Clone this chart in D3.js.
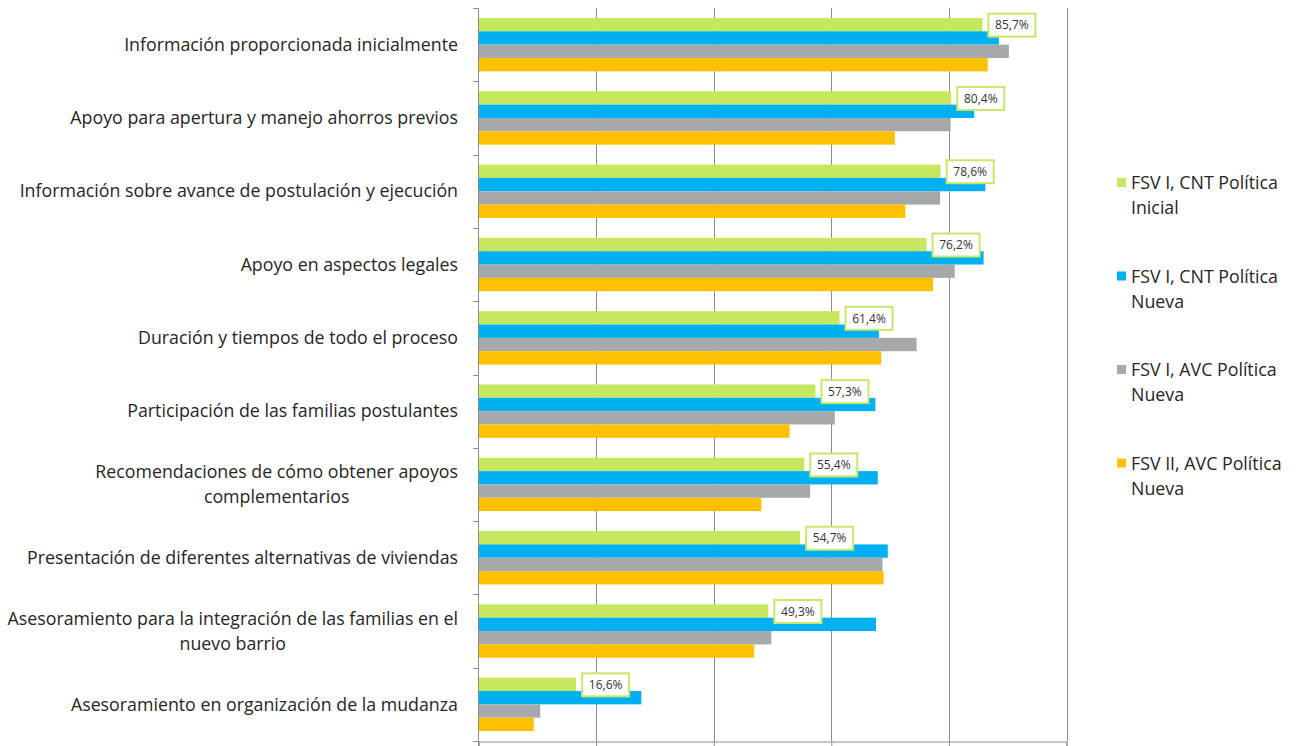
<!DOCTYPE html>
<html><head><meta charset="utf-8">
<script src="https://cdn.jsdelivr.net/npm/d3@7"></script>
<style>body{margin:0;background:#fff}svg{display:block}</style>
</head><body><svg id="c" width="1303" height="746"></svg>
<script>
const categories = [
  ["Información proporcionada inicialmente"],
  ["Apoyo para apertura y manejo ahorros previos"],
  ["Información sobre avance de postulación y ejecución"],
  ["Apoyo en aspectos legales"],
  ["Duración y tiempos de todo el proceso"],
  ["Participación de las familias postulantes"],
  ["Recomendaciones de cómo obtener apoyos", "complementarios"],
  ["Presentación de diferentes alternativas de viviendas"],
  ["Asesoramiento para la integración de las familias en el", "nuevo barrio"],
  ["Asesoramiento en organización de la mudanza"]
];
const seriesNames = [
  ["FSV I, CNT Política", "Inicial"],
  ["FSV I, CNT Política", "Nueva"],
  ["FSV I, AVC Política", "Nueva"],
  ["FSV II, AVC Política", "Nueva"]
];
const fsv1CntInicial = [85.7, 80.4, 78.6, 76.2, 61.4, 57.3, 55.4, 54.7, 49.3, 16.6];
const fsv1CntNueva   = [88.5, 84.3, 86.2, 85.9, 68.1, 67.5, 67.9, 69.6, 67.6, 27.7];
const fsv1AvcNueva   = [90.2, 80.3, 78.5, 81.0, 74.5, 60.6, 56.4, 68.7, 49.8, 10.5];
const fsv2AvcNueva   = [86.6, 70.8, 72.6, 77.3, 68.5, 52.9, 48.1, 68.9, 46.9, 9.4];
const seriesValues = [fsv1CntInicial, fsv1CntNueva, fsv1AvcNueva, fsv2AvcNueva];
const colors = ["#C5E85E", "#00B0F0", "#A6A9AC", "#FFC000"];
const xTicks = [0, 20, 40, 60, 80, 100];

const svg = d3.select("#c");
const font = "'Open Sans', Lato, sans-serif";
const x = d3.scaleLinear().domain([0, 100]).range([478.5, 1066.5]);
const catIdx = d3.range(categories.length);
const y0 = d3.scaleBand().domain(catIdx).range([8, 741]).padding(0);
const bw = y0.bandwidth();
const y1 = d3.scaleBand().domain(d3.range(4)).range([bw*0.136, bw*0.864]).padding(0);

// gridlines
svg.append("g").selectAll("line").data(xTicks.slice(1)).join("line")
  .attr("x1", d => Math.round(x(d)) + 0.5).attr("x2", d => Math.round(x(d)) + 0.5)
  .attr("y1", 8).attr("y2", 741)
  .attr("stroke", "#8c8c8c").attr("stroke-width", 1);

// bars
const groups = svg.append("g").selectAll("g").data(catIdx).join("g")
  .attr("transform", i => `translate(0,${y0(i)})`);
groups.selectAll("rect").data(i => seriesValues.map((s, k) => ({k, v: s[i]}))).join("rect")
  .attr("x", x(0)).attr("y", d => y1(d.k))
  .attr("width", d => x(d.v) - x(0)).attr("height", y1.bandwidth())
  .attr("fill", d => colors[d.k]);

// axes
const xAxis = d3.axisBottom(x).tickValues(xTicks).tickSize(5).tickFormat("");
const gx = svg.append("g").attr("transform", "translate(0,741.5)").call(xAxis);
gx.selectAll("path,line").attr("stroke", "#8c8c8c");
const yAxisG = svg.append("g");
yAxisG.append("line").attr("x1", 478.5).attr("x2", 478.5).attr("y1", 8).attr("y2", 746).attr("stroke", "#8c8c8c");
yAxisG.selectAll("line.t").data(d3.range(categories.length + 1)).join("line").attr("class", "t")
  .attr("x1", 473).attr("x2", 478.5)
  .attr("y1", i => Math.round(8 + i * bw) + 0.5).attr("y2", i => Math.round(8 + i * bw) + 0.5)
  .attr("stroke", "#8c8c8c");

// category labels
const labelSize = 17.8;
catIdx.forEach(i => {
  const c = y0(i) + bw / 2;
  const lines = categories[i];
  if (lines.length === 1) {
    svg.append("text").attr("x", 458).attr("y", c).attr("dy", "0.35em")
      .attr("text-anchor", "end").attr("font-family", font).attr("font-size", labelSize)
      .attr("fill", "#262626").text(lines[0]);
  } else {
    const t1 = svg.append("text").attr("x", 458).attr("y", c - 12.5).attr("dy", "0.35em")
      .attr("text-anchor", "end").attr("font-family", font).attr("font-size", labelSize)
      .attr("fill", "#262626").text(lines[0]);
    const w = t1.node().getComputedTextLength();
    svg.append("text").attr("x", 458 - w / 2).attr("y", c + 12.5).attr("dy", "0.35em")
      .attr("text-anchor", "middle").attr("font-family", font).attr("font-size", labelSize)
      .attr("fill", "#262626").text(lines[1]);
  }
});

// data labels for first series
catIdx.forEach(i => {
  const v = fsv1CntInicial[i];
  const cy = y0(i) + y1(0) + y1.bandwidth() / 2;
  const bx = x(v) + 6;
  const g = svg.append("g");
  g.append("rect").attr("x", bx).attr("y", cy - 11).attr("width", 47).attr("height", 23)
    .attr("fill", "#fff").attr("stroke", "#C5E86B").attr("stroke-width", 2);
  g.append("text").attr("x", bx + 23.5).attr("y", cy + 0.5).attr("dy", "0.35em")
    .attr("text-anchor", "middle").attr("font-family", font).attr("font-size", 12)
    .attr("fill", "#333").text(v.toFixed(1).replace(".", ",") + "%");
});

// legend
const lg = svg.append("g");
seriesNames.forEach((nm, k) => {
  const ly = 183 + k * 93.5;
  lg.append("rect").attr("x", 1117).attr("y", ly - 5).attr("width", 9).attr("height", 9).attr("fill", colors[k]);
  nm.forEach((t, j) => {
    lg.append("text").attr("x", 1131).attr("y", ly + j * 25).attr("dy", "0.35em")
      .attr("font-family", font).attr("font-size", 17.8).attr("fill", "#262626").text(t);
  });
});
</script></body></html>
